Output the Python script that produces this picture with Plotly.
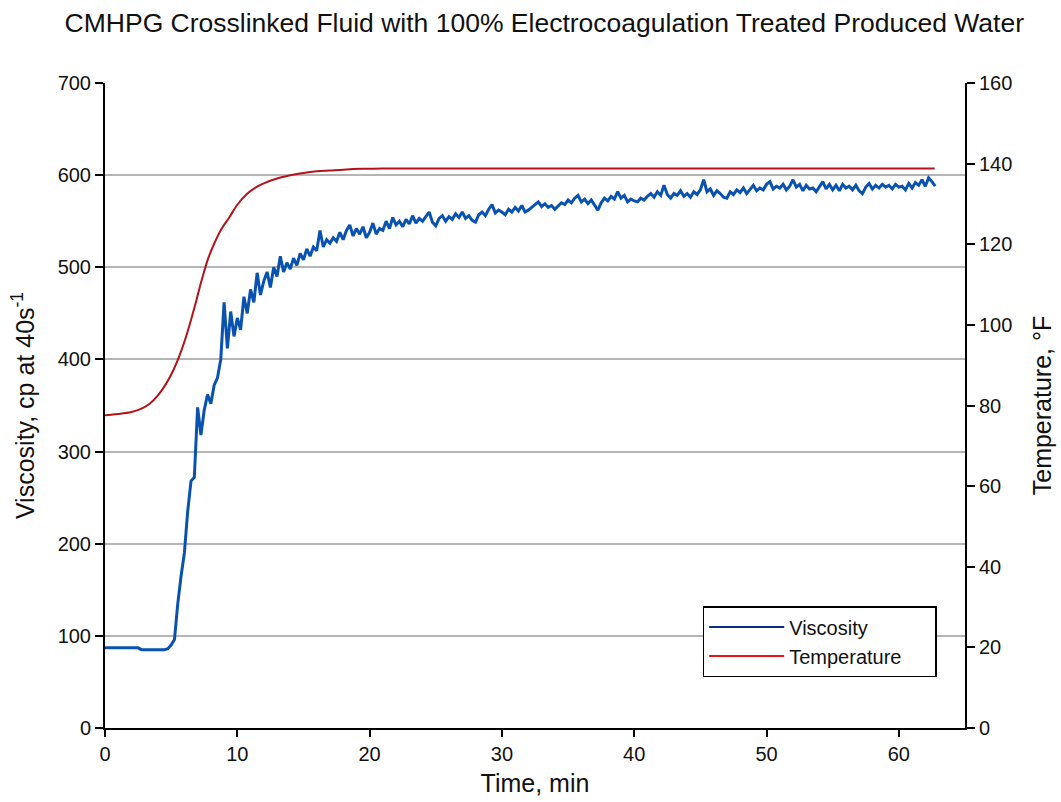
import plotly.graph_objects as go

# Viscosity sampled every 0.25 min starting at t = 0
visc_t0 = 0.0
visc_dt = 0.25
viscosity = [
    87, 87, 87, 87, 87, 87, 87, 87, 87, 87, 87,
    85, 85, 85, 85, 85, 85, 85, 85,
    86, 90, 96, 135, 165, 190, 235, 268, 272, 348, 318, 345, 362, 352, 372, 380, 400,
    462, 412, 452, 425, 445, 432, 468, 450, 476, 462, 494, 470, 485, 495, 478, 500,
    490, 512, 495, 505, 498, 510, 502, 515, 508, 520, 512, 522, 518, 540, 522, 530,
    526, 532, 528, 538, 530, 540, 546, 534, 542, 536, 544, 532, 538, 548, 536, 542,
    540, 550, 542, 554, 546, 550, 544, 552, 547, 556, 548, 553, 550, 555, 560, 549,
    545, 553, 556, 550, 555, 552, 558, 554, 560, 553, 556, 551, 549, 557, 560, 556,
    563, 568, 559, 562, 560, 557, 563, 560, 565, 561, 567, 560, 562, 565, 568, 571,
    566, 569, 565, 567, 563, 566, 570, 568, 573, 570, 575, 578, 571, 574, 569, 573,
    568, 562, 570, 575, 572, 577, 574, 582, 575, 578, 571, 574, 572, 571, 575, 573,
    577, 580, 576, 582, 578, 589, 579, 575, 580, 578, 583, 577, 580, 576, 582, 579,
    584, 595, 582, 585, 578, 583, 580, 576, 575, 582, 579, 584, 581, 586, 580, 585,
    589, 583, 586, 584, 590, 593, 585, 588, 586, 590, 584, 588, 595, 587, 590, 583,
    589, 585, 586, 582, 588, 593, 585, 590, 584, 589, 583, 590, 586, 588, 584, 589,
    583, 580, 587, 591, 585, 589, 586, 590, 587, 589, 585, 590, 587, 588, 584, 591,
    586, 592, 589, 595, 588, 597, 593, 588,
]

temp_time = [0, 1.0, 2.0, 2.8, 3.4, 4.0, 4.6, 5.2, 5.7, 6.1, 6.5, 6.9, 7.3, 7.8,
             8.3, 8.8, 9.4, 10.0, 10.7, 11.4, 12.0, 13.0, 14.0, 15.0, 16.0, 17.0,
             18.0, 19.5, 21.0, 23.0, 30.0, 40.0, 50.0, 62.7]
temperature = [77.6, 77.9, 78.4, 79.3, 80.5, 82.5, 85.3, 89.0, 93.0, 96.8, 101.2,
               106.0, 111.0, 116.5, 120.5, 123.8, 126.7, 129.8, 132.4, 134.1, 135.1,
               136.3, 137.1, 137.7, 138.1, 138.3, 138.5, 138.7, 138.8, 138.8, 138.8,
               138.8, 138.8, 138.8]

title_text = "CMHPG Crosslinked Fluid with 100% Electrocoagulation Treated Produced Water"
x_ticks = [0, 10, 20, 30, 40, 50, 60]
y_ticks = [0, 100, 200, 300, 400, 500, 600, 700]
y2_ticks = [0, 20, 40, 60, 80, 100, 120, 140, 160]

FONT = "Liberation Sans, Arial, sans-serif"
PAD = "\u00a0\u00a0\u00a0\u00a0\u00a0"

fig = go.Figure()
fig.add_trace(go.Scatter(
    x0=visc_t0, dx=visc_dt, y=viscosity, mode="lines",
    line=dict(color="#0a52b0", width=3), showlegend=False, name="Viscosity"))
fig.add_trace(go.Scatter(
    x=temp_time, y=temperature, mode="lines", yaxis="y2",
    line=dict(color="#b3141b", width=2, shape="spline"), showlegend=False, name="Temperature"))
# legend entries
fig.add_trace(go.Scatter(x=[None], y=[None], mode="lines", name="Viscosity",
                         line=dict(color="#0c2c8c", width=2)))
fig.add_trace(go.Scatter(x=[None], y=[None], mode="lines", name="Temperature" + PAD,
                         line=dict(color="#e8141c", width=2)))

fig.update_layout(
    width=1061, height=802,
    margin=dict(l=105, r=96, t=83, b=74),
    paper_bgcolor="white", plot_bgcolor="white",
    font=dict(family=FONT, color="#111111", size=20),
    title=dict(text=title_text, x=0.513, xref="container", xanchor="center",
               y=0.972, yref="container", yanchor="middle",
               font=dict(size=26.5, family=FONT, color="#111111")),
    xaxis=dict(range=[0, 65], tickvals=x_ticks, ticks="outside", ticklen=7,
               tickwidth=1.5, tickcolor="black", showline=True, linecolor="black",
               linewidth=2, showgrid=False, zeroline=False, automargin=False,
               title=dict(text="Time, min", font=dict(size=25), standoff=10),
               tickfont=dict(size=20)),
    yaxis=dict(range=[0, 700], tickvals=y_ticks, ticks="outside", ticklen=8,
               tickwidth=1.5, tickcolor="black", showline=True, linecolor="black",
               linewidth=2, showgrid=True, gridcolor="#b5b5b5", gridwidth=1.5,
               zeroline=False, automargin=False,
               title=dict(text="Viscosity, cp at 40s<sup>-1</sup>", font=dict(size=25), standoff=16),
               tickfont=dict(size=20)),
    yaxis2=dict(range=[0, 160], tickvals=y2_ticks, overlaying="y", side="right",
                ticks="outside", ticklen=8, tickwidth=1.5, tickcolor="black",
                showline=True, linecolor="black", linewidth=2, showgrid=False,
                zeroline=False, automargin=False,
                title=dict(text="Temperature, °F", font=dict(size=25), standoff=22),
                tickfont=dict(size=20)),
    legend=dict(x=0.695, y=0.189, xanchor="left", yanchor="top",
                bgcolor="white", bordercolor="black", borderwidth=1.5,
                font=dict(size=20), tracegroupgap=0, itemwidth=75),
)

fig.write_html("out.html")
